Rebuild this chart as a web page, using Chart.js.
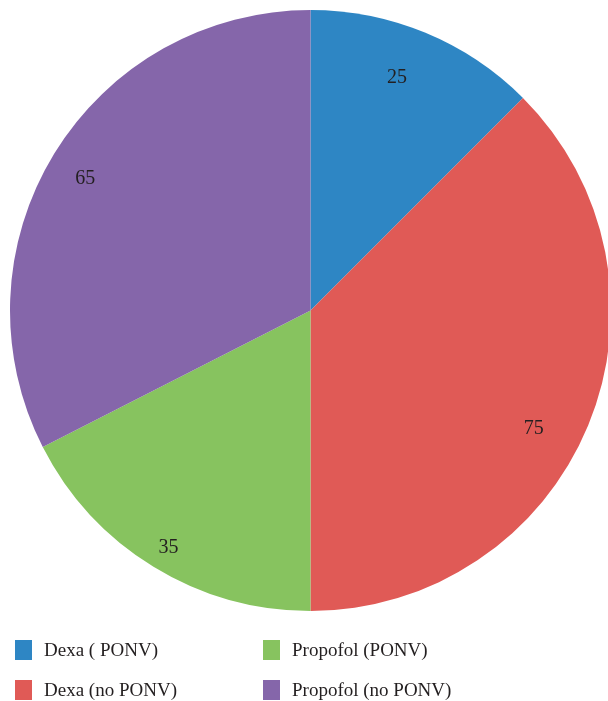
<!DOCTYPE html>
<html>
<head>
<meta charset="utf-8">
<script src="https://cdn.jsdelivr.net/npm/chart.js@4/dist/chart.umd.min.js"></script>
<style>
  html, body { margin: 0; padding: 0; background: #fff; width: 608px; height: 701px; overflow: hidden; }
  #wrap { position: absolute; left: 0; top: 0; width: 621px; height: 621px; }
  #legend { position: absolute; left: 0; top: 0; width: 608px; height: 701px; pointer-events: none;
            font-family: "Liberation Serif", "DejaVu Serif", serif; font-size: 19px; color: #231f20; }
  .item { position: absolute; height: 20px; }
  .box { position: absolute; left: 0; top: 0; width: 17px; height: 20px; }
  .txt { position: absolute; left: 29px; top: -1px; white-space: nowrap; line-height: 22px; }
</style>
</head>
<body>
<div id="wrap"><canvas id="c" width="621" height="621"></canvas></div>
<div id="legend"></div>
<script>
const categories = ["Dexa ( PONV)", "Dexa (no PONV)", "Propofol (PONV)", "Propofol (no PONV)"];
const values = [25, 75, 35, 65];
const colors = ["#2e86c4", "#e05a56", "#87c35f", "#8566aa"];
// legend grid: [column, row] for each category
const legendCols = [0, 0, 1, 1];
const legendRows = [0, 1, 0, 1];

const labelPlugin = {
  id: 'sliceLabels',
  afterDatasetsDraw(chart) {
    const ctx = chart.ctx;
    const meta = chart.getDatasetMeta(0);
    const fs = 20;
    ctx.save();
    ctx.font = fs + 'px "Liberation Serif", "DejaVu Serif", serif';
    ctx.fillStyle = '#231f20';
    ctx.textAlign = 'right';
    meta.data.forEach((arc, i) => {
      const p = arc.getProps(['x', 'y', 'startAngle', 'endAngle', 'outerRadius'], true);
      const mid = (p.startAngle + p.endAngle) / 2;
      const r = p.outerRadius * 0.84;
      const lower = Math.sin(mid) > 0;
      ctx.textBaseline = lower ? 'top' : 'middle';
      const dy = lower ? fs * 0.6 : 0;
      ctx.fillText(String(values[i]), p.x + Math.cos(mid) * r, p.y + Math.sin(mid) * r + dy);
    });
    ctx.restore();
  }
};

new Chart(document.getElementById('c'), {
  type: 'pie',
  data: {
    labels: categories,
    datasets: [{ data: values, backgroundColor: colors, borderWidth: 0 }]
  },
  options: {
    responsive: false,
    animation: false,
    layout: { padding: 10 },
    plugins: { legend: { display: false }, tooltip: { enabled: false } }
  },
  plugins: [labelPlugin]
});

const lg = document.getElementById('legend');
const colX = [15, 263];
const rowY = [640, 680];
categories.forEach((name, i) => {
  const d = document.createElement('div');
  d.className = 'item';
  d.style.left = colX[legendCols[i]] + 'px';
  d.style.top = rowY[legendRows[i]] + 'px';
  d.innerHTML = '<div class="box" style="background:' + colors[i] + '"></div><div class="txt"></div>';
  d.querySelector('.txt').textContent = name;
  lg.appendChild(d);
});
</script>
</body>
</html>
